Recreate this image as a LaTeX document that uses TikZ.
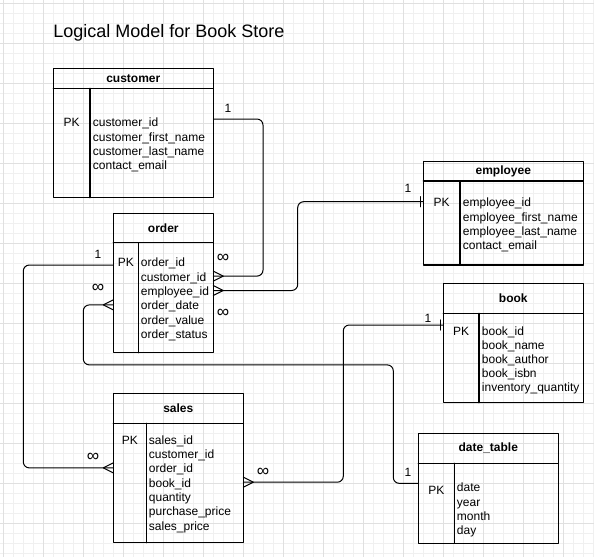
\documentclass[tikz,border=0pt]{standalone}
\usepackage{fontspec}
\setmainfont{Liberation Sans}
% entity box: name, x, y, width, height, header height, key column width, title, first row y
\newcommand{\ertable}[9]{%
\node[tbl, minimum width=#4*0.75pt, minimum height=#5*0.75pt] (#1) at (#2,#3) {};
\draw[line width=0.9pt] (#2,#3+#6)--(#2+#4,#3+#6) (#2+#7,#3+#6)--(#2+#7,#3+#5);
\node[hdr] (#1-title) at (#2+#4/2,#3+#6/2) {#8};
\node[pk] (#1-pk) at (#2+#7/2,#9) {PK};
}
\begin{document}
\begin{tikzpicture}[x=0.75pt, y=-0.75pt, font=\fontsize{9}{11}\selectfont, line join=round, line cap=round,
  tbl/.style={draw, line width=0.9pt, anchor=north west, inner sep=0, outer sep=0},
  hdr/.style={inner sep=0, font=\fontsize{9}{11}\selectfont\bfseries},
  fld/.style={anchor=west, inner sep=0, text height=7.5pt, text depth=0pt},
  pk/.style={inner sep=0, text height=7.5pt, text depth=0pt},
  conn/.style={line width=0.75pt, rounded corners=4.5pt},
  card/.style={inner sep=0},
  inf/.style={inner sep=0, font=\fontsize{13}{13}\selectfont},
  many/.pic={\draw[line width=0.75pt] (0,5)--(10,0)--(0,-5);},
  one/.pic={\draw[line width=0.9pt] (3,-5)--(3,5);}]
\useasboundingbox (0,0) rectangle (594,557);
% grid
\foreach \i in {0,...,59}{
\draw[black!6, line width=0.4pt] (3+10*\i,0)--(3+10*\i,557);
\draw[black!6, line width=0.4pt] (0,3+10*\i)--(594,3+10*\i);
}
\foreach \i in {0,...,14}{
\draw[black!12, line width=0.4pt] (3+40*\i,0)--(3+40*\i,557);
\draw[black!12, line width=0.4pt] (0,3+40*\i)--(594,3+40*\i);
}
\node[anchor=west, inner sep=0, font=\fontsize{13.5}{16}\selectfont] (title) at (53,33) {Logical Model for Book Store};
% entities
\ertable{customer}{53.3}{68.3}{160}{129.4}{20}{36.7}{customer}{121.7}
\foreach \f [count=\i] in {customer\_id,customer\_first\_name,customer\_last\_name,contact\_email}
\node[fld] (customer-\i) at (92.7,{121.7+14.4*(\i-1)}) {\f};
\ertable{order}{113.3}{213.3}{100}{139.4}{29.4}{25}{order}{261.7}
\foreach \f [count=\i] in {order\_id,customer\_id,employee\_id,order\_date,order\_value,order\_status}
\node[fld] (order-\i) at (140.7,{261.7+14.4*(\i-1)}) {\f};
\ertable{employee}{423.3}{161.7}{160}{103.3}{19.3}{36.7}{employee}{201.7}
\foreach \f [count=\i] in {employee\_id,employee\_first\_name,employee\_last\_name,contact\_email}
\node[fld] (employee-\i) at (462.7,{201.7+14.4*(\i-1)}) {\f};
\ertable{book}{443.3}{283.3}{140}{119.4}{30}{35.7}{book}{330}
\foreach \f [count=\i] in {book\_id,book\_name,book\_author,book\_isbn,inventory\_quantity}
\node[fld] (book-\i) at (481.7,{330+14.2*(\i-1)}) {\f};
\ertable{sales}{113.3}{393.3}{130}{149.4}{30}{33.4}{sales}{439.3}
\foreach \f [count=\i] in {sales\_id,customer\_id,order\_id,book\_id,quantity,purchase\_price,sales\_price}
\node[fld] (sales-\i) at (148.7,{439.3+14.3*(\i-1)}) {\f};
\ertable{date}{418.3}{433.3}{140}{110}{30}{36}{date\_table}{489}
\foreach \f [count=\i] in {date,year,month,day}
\node[fld] (date-\i) at (456.7,{486.7+14.4*(\i-1)}) {\f};
% relationships
\draw[conn] ([yshift=2pt]customer.east |- customer-1) -- ++(49.7,0) |- (order.east |- order-2);
\draw[conn] (employee.west |- employee-1) -- ++(-125.6,0) |- (order.east |- order-3);
\draw[conn] ([yshift=-2.5pt]order.west |- order-1) -- ++(-90,0) |- (sales.west |- sales-3);
\draw[conn] (order.west |- order-4) -- ++(-30,0) |- ++(310,60) |- ([yshift=2.5pt]date.west |- date-1);
\draw[conn] ([yshift=3.75pt]book.west |- book-1) -- ++(-100,0) |- (sales.east |- sales-4);
\pic at (order.east |- order-2) {many};
\pic at (order.east |- order-3) {many};
\pic[xscale=-1] at (order.west |- order-4) {many};
\pic[xscale=-1] at (sales.west |- sales-3) {many};
\pic at (sales.east |- sales-4) {many};
\pic[xscale=-1] at (employee.west |- employee-1) {one};
\pic[xscale=-1] at ([yshift=3.75pt]book.west |- book-1) {one};
\pic[xscale=-1] at ([yshift=-2.5pt, xshift=2.25pt]order.west |- order-1) {one};
% cardinalities
\foreach \p/\x/\y in {c1/228/108, c2/408/188, c3/98/254, c4/428/318, c5/408/472}
\node[card] (\p) at (\x,\y) {1};
\foreach \p/\x/\y in {m1/223/258, m2/223/313, m3/98/288, m4/93/457, m5/263/472}
\node[inf] (\p) at (\x,\y) {∞};
\end{tikzpicture}
\end{document}
